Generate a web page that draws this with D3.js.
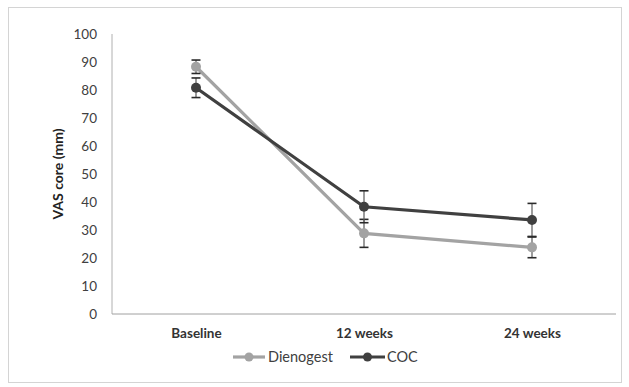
<!DOCTYPE html>
<html><head><meta charset="utf-8">
<script src="https://cdn.jsdelivr.net/npm/d3@7"></script>
<style>body{margin:0;background:#fff;} svg{display:block;font-family:Lato,"Open Sans",sans-serif;}</style>
</head><body>
<script>
const categories = ["Baseline", "12 weeks", "24 weeks"];
const dienogestValues = [88.3, 28.8, 23.8];
const dienogestErrors = [2.4, 5.0, 3.7];
const cocValues = [80.8, 38.3, 33.6];
const cocErrors = [3.5, 5.7, 5.9];
const yTicks = [0, 10, 20, 30, 40, 50, 60, 70, 80, 90, 100];
const seriesNames = ["Dienogest", "COC"];

const W = 629, H = 387;
const svg = d3.select("body").append("svg").attr("width", W).attr("height", H);

svg.append("rect").attr("x", 8.5).attr("y", 7.5).attr("width", 613).attr("height", 375)
  .attr("fill", "#fff").attr("stroke", "#d4d4d4").attr("stroke-width", 1);

const x = d3.scalePoint().domain(categories).range([112, 616]).padding(0.5);
const y = d3.scaleLinear().domain([0, 100]).range([314, 34]);

// axes
const yAxis = svg.append("g").attr("transform", "translate(112,0)")
  .call(d3.axisLeft(y).tickValues(yTicks).tickSize(0).tickPadding(15));
yAxis.select(".domain").attr("stroke", "#b0b0b0").attr("d", `M0,${y(100)}V${y(0)}`);
yAxis.selectAll("text").attr("font-size", 13.5).attr("fill", "#404040").attr("font-family", "Lato, 'Open Sans', sans-serif");

const xAxis = svg.append("g").attr("transform", `translate(0,${y(0)})`)
  .call(d3.axisBottom(x).tickSize(0).tickPadding(14));
xAxis.select(".domain").attr("stroke", "#a0a0a0").attr("d", "M112,0H616");
xAxis.selectAll("text").attr("font-size", 13.5).attr("font-weight", "bold").attr("fill", "#333")
  .attr("font-family", "Lato, 'Open Sans', sans-serif");

svg.append("text").attr("transform", `translate(63,${(y(0)+y(100))/2}) rotate(-90)`)
  .attr("text-anchor", "middle").attr("font-size", 14).attr("font-weight", "bold").attr("fill", "#222")
  .text("VAS core (mm)");

const series = [
  {name: seriesNames[0], values: dienogestValues, errors: dienogestErrors, color: "#a3a3a3"},
  {name: seriesNames[1], values: cocValues, errors: cocErrors, color: "#404040"}
];

const line = d3.line().x((d, i) => x(categories[i])).y(d => y(d));

series.forEach(s => {
  svg.append("path").attr("d", line(s.values)).attr("fill", "none")
    .attr("stroke", s.color).attr("stroke-width", 3.2);
});

// error bars
series.forEach(s => {
  const g = svg.append("g");
  s.values.forEach((v, i) => {
    const cx = x(categories[i]);
    g.append("line").attr("x1", cx).attr("x2", cx).attr("y1", y(v + s.errors[i])).attr("y2", y(v - s.errors[i]))
      .attr("stroke", "#5a5a5a").attr("stroke-width", 1.2);
    [v + s.errors[i], v - s.errors[i]].forEach(e => {
      g.append("line").attr("x1", cx - 4.5).attr("x2", cx + 4.5).attr("y1", y(e)).attr("y2", y(e))
        .attr("stroke", "#2a2a2a").attr("stroke-width", 1.6);
    });
  });
});

series.forEach(s => {
  svg.append("g").selectAll("circle").data(s.values).join("circle")
    .attr("cx", (d, i) => x(categories[i])).attr("cy", d => y(d)).attr("r", 5)
    .attr("fill", s.color);
});

// legend
const legend = [{s: series[0], x1: 233, x2: 265, tx: 268}, {s: series[1], x1: 350, x2: 385, tx: 387}];
legend.forEach(l => {
  const ly = 357;
  svg.append("line").attr("x1", l.x1).attr("x2", l.x2).attr("y1", ly).attr("y2", ly)
    .attr("stroke", l.s.color).attr("stroke-width", 3.2);
  svg.append("circle").attr("cx", (l.x1 + l.x2) / 2).attr("cy", ly).attr("r", 4.5).attr("fill", l.s.color);
  svg.append("text").attr("x", l.tx).attr("y", ly).attr("dy", "0.35em").attr("font-size", 14.5)
    .attr("fill", "#404040").text(l.s.name);
});
</script>
</body></html>
